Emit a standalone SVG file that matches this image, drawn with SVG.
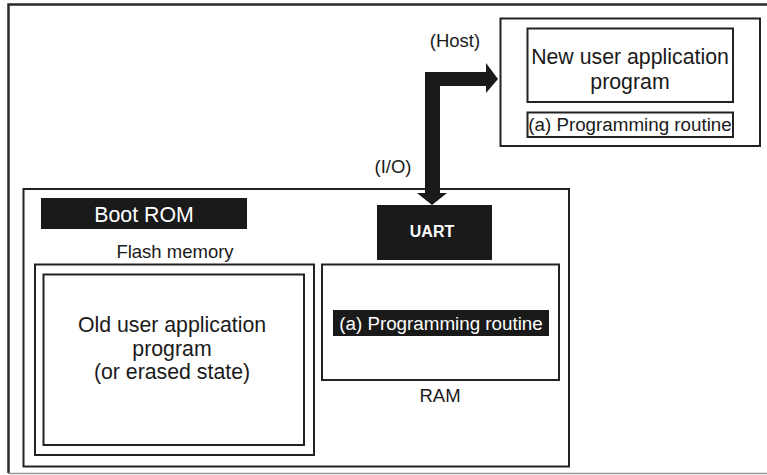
<svg xmlns="http://www.w3.org/2000/svg" width="767" height="475" viewBox="0 0 767 475">
<style>
.box{fill:none;stroke:#222;stroke-width:2}
.t{font-family:"Liberation Sans",Arial,sans-serif;font-size:18.5px;fill:#1a1a1a;text-anchor:middle}
.big{font-size:21.3px}
.w{fill:#fff}
.blk{fill:#1a1a1a}
</style>
<rect width="767" height="475" fill="#fff"/>
<g id="frame">
<path d="M767 4.5H8.5V473" fill="none" stroke="#2a2a2a" stroke-width="2.5"/>
<line x1="8" y1="473.5" x2="767" y2="473.5" stroke="#999" stroke-width="1.5"/>
</g>
<g id="host">
<rect class="box" x="500.5" y="18.5" width="259.5" height="127.5"/>
<text class="t" x="455" y="47">(Host)</text>
</g>
<g id="new-user-app">
<rect class="box" x="527.5" y="28.5" width="205.5" height="73.5"/>
<text class="t big" x="630" y="64">New user application</text>
<text class="t big" x="630" y="89">program</text>
</g>
<g id="host-routine">
<rect class="box" x="527.5" y="112.5" width="205.5" height="24.5"/>
<text class="t" x="630" y="131" style="font-size:18.8px">(a) Programming routine</text>
</g>
<g id="chip">
<rect class="box" x="23.5" y="189" width="545.5" height="277.5"/>
</g>
<g id="boot-rom">
<rect class="blk" x="41" y="198" width="206" height="31"/>
<text class="t w big" x="144" y="221.5">Boot ROM</text>
</g>
<g id="flash">
<text class="t" x="175" y="258">Flash memory</text>
<rect class="box" x="35" y="264.5" width="279" height="190.5"/>
</g>
<g id="old-user-app">
<rect class="box" x="43.5" y="274.5" width="260.5" height="170.5"/>
<text class="t big" x="172" y="332">Old user application</text>
<text class="t big" x="172" y="356">program</text>
<text class="t big" x="172" y="379">(or erased state)</text>
</g>
<g id="uart">
<rect class="blk" x="377" y="205" width="115" height="55"/>
<text class="t w" x="432" y="237" style="font-size:16px;font-weight:bold">UART</text>
</g>
<g id="ram">
<rect class="box" x="322" y="264.5" width="237" height="115.5"/>
<rect class="blk" x="333" y="310" width="216" height="26"/>
<text class="t w" x="441" y="330" style="font-size:18.8px">(a) Programming routine</text>
<text class="t" x="440" y="402">RAM</text>
</g>
<g id="connectors">
<polygon class="blk" points="486,63 498,79 486,93 486,86 440,86 440,193 447,193 432,205 417,193 425,193 425,72 486,72"/>
<text class="t" x="393" y="173">(I/O)</text>
</g>
</svg>
